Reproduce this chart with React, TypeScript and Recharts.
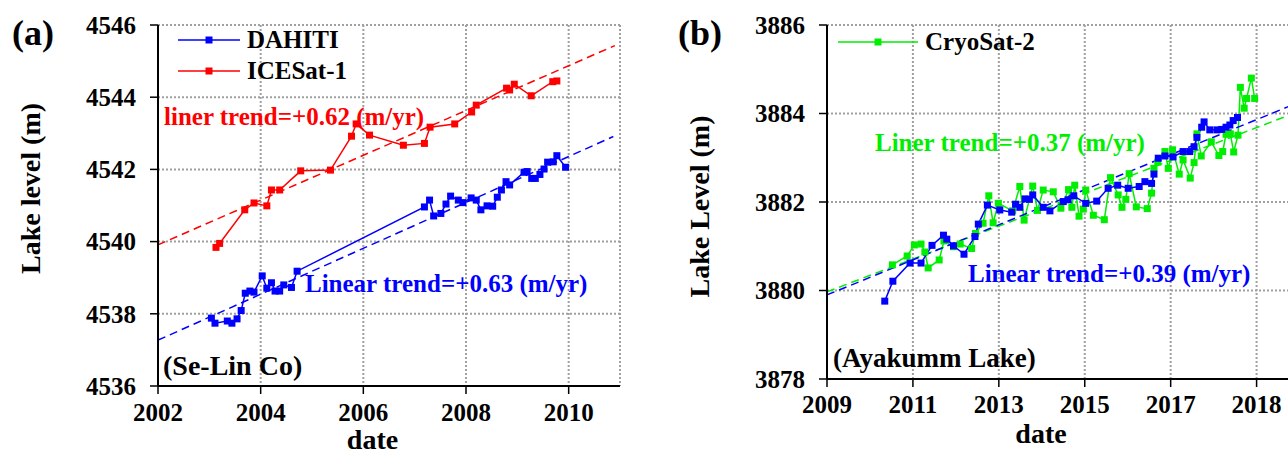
import React from "react";
import { LineChart, Line, XAxis, YAxis, CartesianGrid } from "recharts";

const FONT = '"Liberation Serif", "Times New Roman", Times, serif';
const BLUE = "#0000ff";
const RED = "#ff0000";
const GREEN = "#00ee00";

// ---- panel (a): Se-Lin Co ----
const xTicksA = [2002, 2004, 2006, 2008, 2010];
const yTicksA = [4536, 4538, 4540, 4542, 4544, 4546];

const dahitiADates = [
  2003.04, 2003.11, 2003.35, 2003.44, 2003.54, 2003.62, 2003.7, 2003.79, 2003.87, 2004.03,
  2004.12, 2004.21, 2004.28, 2004.37, 2004.45, 2004.6, 2004.71, 2007.19, 2007.29, 2007.37,
  2007.51, 2007.61, 2007.7, 2007.85, 2007.94, 2008.1, 2008.2, 2008.29, 2008.41, 2008.52,
  2008.61, 2008.69, 2008.78, 2008.85, 2009.13, 2009.19, 2009.28, 2009.35, 2009.44, 2009.52,
  2009.59, 2009.7, 2009.77, 2009.94,
];
const dahitiALevels = [
  4537.88, 4537.74, 4537.8, 4537.74, 4537.86, 4538.09, 4538.57, 4538.63, 4538.6, 4539.05,
  4538.71, 4538.86, 4538.63, 4538.63, 4538.8, 4538.73, 4539.18, 4540.96, 4541.15, 4540.71,
  4540.78, 4541.04, 4541.26, 4541.15, 4541.08, 4541.21, 4541.15, 4540.88, 4540.99, 4540.98,
  4541.23, 4541.43, 4541.66, 4541.57, 4541.92, 4541.94, 4541.75, 4541.75, 4541.86, 4542.01,
  4542.2, 4542.21, 4542.38, 4542.06,
];

const icesatDates = [
  2003.13, 2003.2, 2003.69, 2003.87, 2004.12, 2004.21, 2004.37, 2004.78, 2005.36, 2005.77,
  2005.86, 2006.12, 2006.78, 2007.19, 2007.3, 2007.78, 2008.11, 2008.2, 2008.79, 2008.85,
  2008.94, 2009.27, 2009.69, 2009.77,
];
const icesatLevels = [
  4539.84, 4539.95, 4540.88, 4541.07, 4540.99, 4541.43, 4541.43, 4541.96, 4541.98, 4542.92,
  4543.26, 4542.95, 4542.67, 4542.72, 4543.17, 4543.26, 4543.59, 4543.78, 4544.25, 4544.2,
  4544.36, 4544.04, 4544.43, 4544.45,
];

const trendRedADates = [2002, 2010.9];
const trendRedALevels = [4539.91, 4545.43];
const trendBlueADates = [2002, 2010.87];
const trendBlueALevels = [4537.27, 4542.91];

// ---- panel (b): Ayakumm Lake ----
const xTicksB = [2009.9, 2011.7, 2013.5, 2015.3, 2017.1, 2018.9];
const xLabelsB = ["2009", "2011", "2013", "2015", "2017", "2018"];
const yTicksB = [3878, 3880, 3882, 3884, 3886];

const dahitiBDates = [
  2011.11, 2011.28, 2011.64, 2011.87, 2012.1, 2012.34, 2012.41, 2012.55, 2012.77, 2013.0,
  2013.07, 2013.26, 2013.52, 2013.77, 2013.85, 2013.94, 2014.05, 2014.14, 2014.21, 2014.43,
  2014.57, 2014.85, 2014.95, 2015.07, 2015.32, 2015.55, 2015.79, 2015.99, 2016.21, 2016.44,
  2016.56, 2016.7, 2016.75, 2016.84, 2016.98, 2017.15, 2017.36, 2017.5, 2017.59, 2017.65,
  2017.75, 2017.8, 2017.92, 2018.07, 2018.17, 2018.26, 2018.34, 2018.41, 2018.5,
];
const dahitiBLevels = [
  3879.76, 3880.21, 3880.62, 3880.62, 3881.02, 3881.25, 3881.16, 3881.01, 3880.82, 3881.22,
  3881.5, 3881.93, 3881.82, 3881.77, 3881.95, 3881.88, 3882.07, 3882.06, 3882.16, 3881.88,
  3881.8, 3882.01, 3882.05, 3882.14, 3881.97, 3882.02, 3882.31, 3882.38, 3882.31, 3882.35,
  3882.46, 3882.42, 3882.63, 3882.99, 3883.04, 3883.02, 3883.14, 3883.14, 3883.25, 3883.46,
  3883.69, 3883.81, 3883.63, 3883.63, 3883.64, 3883.69, 3883.74, 3883.84, 3883.91,
];

const cryosatDates = [
  2011.27, 2011.58, 2011.73, 2011.87, 2011.95, 2012.02, 2012.25, 2012.35, 2012.55, 2012.69,
  2012.93, 2013.01, 2013.17, 2013.29, 2013.38, 2013.49, 2013.79, 2013.94, 2014.03, 2014.21,
  2014.31, 2014.43, 2014.64, 2014.8, 2014.96, 2015.03, 2015.09, 2015.18, 2015.27, 2015.32,
  2015.48, 2015.71, 2015.84, 2016.0, 2016.08, 2016.16, 2016.23, 2016.38, 2016.61, 2016.7,
  2016.75, 2016.83, 2016.98, 2017.05, 2017.14, 2017.28, 2017.36, 2017.51, 2017.59, 2017.65,
  2017.74, 2017.95, 2018.11, 2018.19, 2018.26, 2018.35, 2018.42, 2018.51, 2018.56, 2018.64,
  2018.69, 2018.79, 2018.86,
];
const cryosatLevels = [
  3880.58, 3880.78, 3881.03, 3881.05, 3880.87, 3880.51, 3880.69, 3881.12, 3880.99, 3881.05,
  3880.95, 3881.29, 3881.52, 3882.14, 3881.53, 3881.97, 3881.8, 3882.35, 3881.59, 3882.36,
  3881.81, 3882.27, 3882.23, 3881.86, 3882.28, 3881.88, 3882.38, 3881.68, 3881.84, 3882.27,
  3881.7, 3881.6, 3882.55, 3882.16, 3881.88, 3882.06, 3882.64, 3881.89, 3881.85, 3882.2,
  3882.76, 3882.9, 3883.14, 3882.76, 3883.18, 3882.63, 3882.95, 3882.54, 3882.89, 3883.54,
  3883.04, 3883.36, 3883.05, 3883.14, 3883.53, 3883.54, 3883.13, 3883.51, 3884.59, 3884.12,
  3884.34, 3884.8, 3884.34,
];

const trendGreenBDates = [2009.9, 2019.6];
const trendGreenBLevels = [3879.97, 3883.97];
const trendBlueBDates = [2009.9, 2019.6];
const trendBlueBLevels = [3879.9, 3884.17];

const toPoints = (xs: number[], ys: number[]) => xs.map((x, i) => ({ x, y: ys[i] }));

const MARK = 7;
const squareDot = (color: string) => (p: any) => {
  const { cx, cy, index } = p;
  if (cx == null || cy == null) return <g key={`d${index}`} />;
  return <rect key={`d${index}`} x={cx - MARK / 2} y={cy - MARK / 2} width={MARK} height={MARK} fill={color} />;
};

const tickStyle = { fill: "#000", fontSize: 25, fontWeight: 700, fontFamily: FONT };
const axisLine = { stroke: "#000", strokeWidth: 2 };
const tickLine = { stroke: "#000", strokeWidth: 1.5 };
const gridProps = { stroke: "#a0a0a0", strokeWidth: 2, strokeDasharray: "2 2" };

function PanelA() {
  return (
    <LineChart width={640} height={454} margin={{ top: 25, right: 20, bottom: 38, left: 0 }}>
      <CartesianGrid {...gridProps} />
      <XAxis type="number" dataKey="x" domain={[2002, 2011]} ticks={xTicksA} allowDataOverflow
        height={30} tickSize={8} tickMargin={9} tick={tickStyle} axisLine={axisLine} tickLine={tickLine} />
      <XAxis xAxisId="top" orientation="top" type="number" domain={[2002, 2011]} height={0}
        tick={false} tickLine={false} axisLine={axisLine} />
      <YAxis type="number" domain={[4536, 4546]} ticks={yTicksA} allowDataOverflow width={158}
        tickSize={8} tickMargin={14} tick={tickStyle} axisLine={axisLine} tickLine={tickLine} />
      <YAxis yAxisId="right" orientation="right" type="number" domain={[4536, 4546]} width={0}
        tick={false} tickLine={false} axisLine={axisLine} />
      <Line data={toPoints(trendRedADates, trendRedALevels)} dataKey="y" stroke={RED} strokeWidth={1.5}
        strokeDasharray="8 5" dot={false} activeDot={false} isAnimationActive={false} />
      <Line data={toPoints(trendBlueADates, trendBlueALevels)} dataKey="y" stroke={BLUE} strokeWidth={1.5}
        strokeDasharray="8 5" dot={false} activeDot={false} isAnimationActive={false} />
      <Line data={toPoints(icesatDates, icesatLevels)} dataKey="y" stroke={RED} strokeWidth={1.5}
        dot={squareDot(RED)} activeDot={false} isAnimationActive={false} />
      <Line data={toPoints(dahitiADates, dahitiALevels)} dataKey="y" stroke={BLUE} strokeWidth={1.5}
        dot={squareDot(BLUE)} activeDot={false} isAnimationActive={false} />
    </LineChart>
  );
}

function PanelB() {
  return (
    <LineChart width={640} height={454} margin={{ top: 25, right: 10, bottom: 45, left: 0 }}>
      <CartesianGrid {...gridProps} />
      <XAxis type="number" dataKey="x" domain={[2009.9, 2019.6]} ticks={xTicksB} allowDataOverflow
        height={30} tickSize={8} tickMargin={8} tick={tickStyle} axisLine={axisLine} tickLine={tickLine}
        tickFormatter={(v: number) => xLabelsB[xTicksB.indexOf(v)] ?? String(Math.floor(v))} />
      <XAxis xAxisId="top" orientation="top" type="number" domain={[2009.9, 2019.6]} height={0}
        tick={false} tickLine={false} axisLine={axisLine} />
      <YAxis type="number" domain={[3878, 3886]} ticks={yTicksB} allowDataOverflow width={167}
        tickSize={8} tickMargin={14} tick={tickStyle} axisLine={axisLine} tickLine={tickLine} />
      <Line data={toPoints(cryosatDates, cryosatLevels)} dataKey="y" stroke={GREEN} strokeWidth={1.5}
        dot={squareDot(GREEN)} activeDot={false} isAnimationActive={false} />
      <Line data={toPoints(dahitiBDates, dahitiBLevels)} dataKey="y" stroke={BLUE} strokeWidth={1.5}
        dot={squareDot(BLUE)} activeDot={false} isAnimationActive={false} />
      <Line data={toPoints(trendGreenBDates, trendGreenBLevels)} dataKey="y" stroke={GREEN} strokeWidth={1.5}
        strokeDasharray="8 5" dot={false} activeDot={false} isAnimationActive={false} />
      <Line data={toPoints(trendBlueBDates, trendBlueBLevels)} dataKey="y" stroke={BLUE} strokeWidth={1.5}
        strokeDasharray="8 5" dot={false} activeDot={false} isAnimationActive={false} />
    </LineChart>
  );
}

function LegendItem({ x1, x2, y, color, label }: { x1: number; x2: number; y: number; color: string; label: string }) {
  const mid = (x1 + x2) / 2;
  return (
    <g>
      <line x1={x1} x2={x2} y1={y} y2={y} stroke={color} strokeWidth={1.5} />
      <rect x={mid - MARK / 2} y={y - MARK / 2} width={MARK} height={MARK} fill={color} />
      <text x={x2 + 7} y={y + 8} fontSize={25}>{label}</text>
    </g>
  );
}

function Overlay() {
  return (
    <svg width={1288} height={454} style={{ position: "absolute", left: 0, top: 0, pointerEvents: "none" }}
      fontFamily={FONT} fontWeight={700} fill="#000">
      {/* panel (a) */}
      <text x={12} y={45} fontSize={36}>(a)</text>
      <text transform="translate(40,188.5) rotate(-90)" textAnchor="middle" fontSize={28}>Lake level (m)</text>
      <text x={372.5} y={449} textAnchor="middle" fontSize={28}>date</text>
      <LegendItem x1={178} x2={240} y={40} color={BLUE} label="DAHITI" />
      <LegendItem x1={178} x2={240} y={71} color={RED} label="ICESat-1" />
      <text x={164} y={125} fontSize={25} fill={RED}>liner trend=+0.62 (m/yr)</text>
      <text x={305} y={292} fontSize={25} fill={BLUE}>Linear trend=+0.63 (m/yr)</text>
      <text x={163} y={375} fontSize={28}>(Se-Lin Co)</text>

      {/* panel (b) */}
      <text x={678} y={45} fontSize={36}>(b)</text>
      <text transform="translate(709,206.5) rotate(-90)" textAnchor="middle" fontSize={28}>Lake Level (m)</text>
      <text x={1041} y={443} textAnchor="middle" fontSize={28}>date</text>
      <LegendItem x1={838} x2={918} y={42} color={GREEN} label="CryoSat-2" />
      <text x={875} y={151} fontSize={25} fill={GREEN}>Liner trend=+0.37 (m/yr)</text>
      <text x={968} y={282} fontSize={25} fill={BLUE}>Linear trend=+0.39 (m/yr)</text>
      <text x={833} y={367} fontSize={27}>(Ayakumm Lake)</text>
    </svg>
  );
}

export default function App() {
  return (
    <div style={{ position: "absolute", left: 0, top: 0, width: 1288, height: 454, overflow: "hidden", background: "#fff" }}>
      <div style={{ position: "absolute", left: 0, top: 0 }}>
        <PanelA />
      </div>
      <div style={{ position: "absolute", left: 660, top: 0 }}>
        <PanelB />
      </div>
      <Overlay />
    </div>
  );
}
